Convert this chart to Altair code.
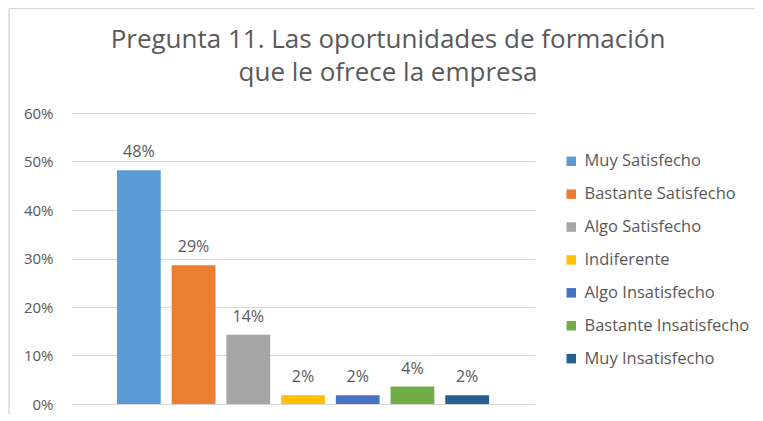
import altair as alt
import pandas as pd

categories = ["Muy Satisfecho", "Bastante Satisfecho", "Algo Satisfecho", "Indiferente",
              "Algo Insatisfecho", "Bastante Insatisfecho", "Muy Insatisfecho"]
values = [0.482, 0.286, 0.143, 0.018, 0.018, 0.036, 0.018]
colors = ["#5B9BD5", "#ED7D31", "#A5A5A5", "#FFC000", "#4472C4", "#70AD47", "#255E91"]
y_ticks = [0, 0.1, 0.2, 0.3, 0.4, 0.5, 0.6]

df = pd.DataFrame({"cat": categories, "val": values})

FONT = "Open Sans"
GRAY = "#595959"

x_enc = alt.X("cat:N", sort=categories, axis=None,
              scale=alt.Scale(paddingInner=0.2, paddingOuter=0.84))
y_enc = alt.Y("val:Q", scale=alt.Scale(domain=[0, 0.6]),
              axis=alt.Axis(format=".0%", values=y_ticks, title=None, domain=False,
                            ticks=False, labelPadding=18, labelFontSize=15,
                            labelFont=FONT, labelColor=GRAY, gridColor="#D9D9D9",
                            gridWidth=1))

base = alt.Chart(df)

bars = base.mark_bar().encode(
    x=x_enc,
    y=y_enc,
    color=alt.Color("cat:N", sort=categories,
                    scale=alt.Scale(domain=categories, range=colors),
                    legend=alt.Legend(title=None, orient="none", legendX=492, legendY=40,
                                      symbolType="square", symbolSize=90,
                                      symbolStrokeWidth=0, labelFontSize=16.5,
                                      labelFont=FONT, labelColor=GRAY, labelOffset=5,
                                      labelLimit=300, rowPadding=15.9, padding=0)),
)

labels = base.mark_text(baseline="alphabetic", dy=-13, fontSize=16, font=FONT,
                        color=GRAY).encode(
    x=x_enc,
    y=alt.Y("val:Q"),
    text=alt.Text("val:Q", format=".0%"),
)

frame = alt.Data(values=[{}])
border_left = alt.Chart(frame).mark_rule(color="#D9D9D9", strokeWidth=1.5).encode(
    x=alt.value(-62), y=alt.value(-104.5), y2=alt.value(310))
border_top = alt.Chart(frame).mark_rule(color="#D9D9D9", strokeWidth=1.5).encode(
    x=alt.value(-62), x2=alt.value(710), y=alt.value(-104.5))

chart = alt.layer(bars, labels, border_left, border_top).properties(
    width=464,
    height=291,
    autosize=alt.AutoSizeParams(type="none"),
    padding={"left": 63, "top": 105, "right": 220, "bottom": 10},
    title=alt.Title(["Pregunta 11. Las oportunidades  de formación", "que le ofrece la empresa"],
                    fontSize=26, font=FONT, fontWeight="normal", color=GRAY,
                    lineHeight=32.4, anchor="middle", dx=85, dy=78, offset=0),
).configure(background="white", view=alt.ViewConfig(strokeWidth=0, stroke="transparent"))

chart.save("out.html", embed_options={"renderer": "svg", "actions": False})
